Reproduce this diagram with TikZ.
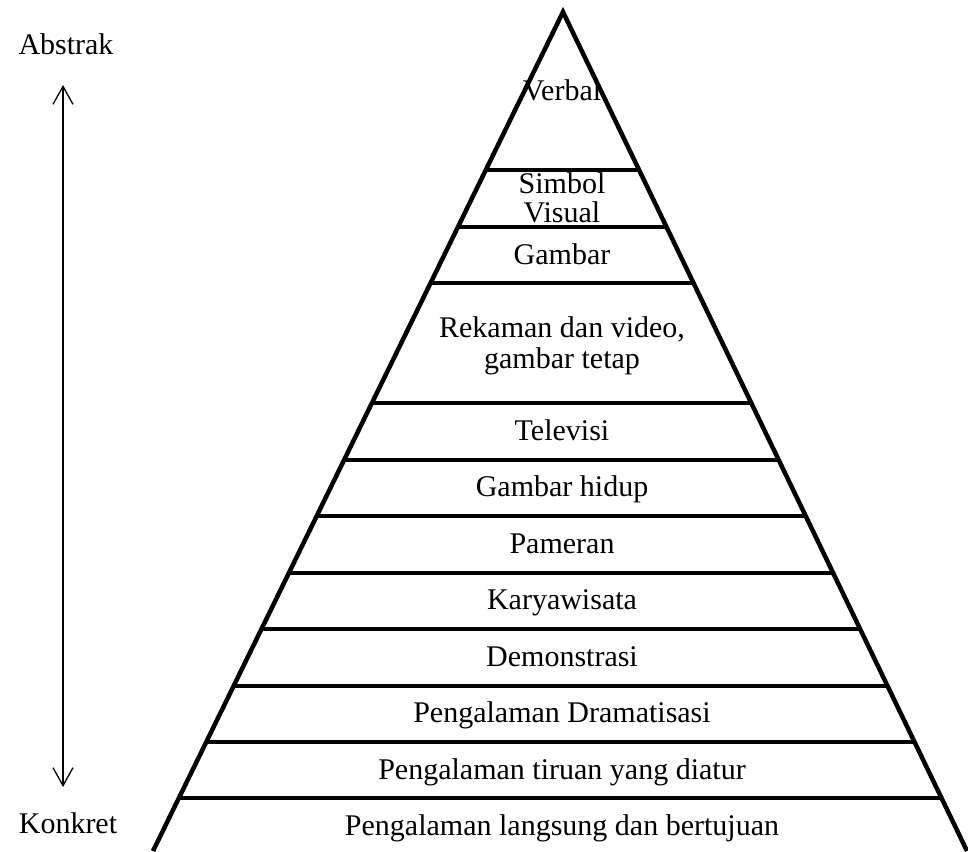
\documentclass[tikz,border=0pt]{standalone}
\usepackage{fontspec}
\setmainfont{Liberation Serif}
\usetikzlibrary{arrows.meta,calc}
\begin{document}
\begin{tikzpicture}[x=1pt,y=-1pt,
  lbl/.style={font=\fontsize{30}{31}\selectfont, anchor=base, inner sep=0pt},
  side/.style={line width=4.5pt, line join=miter},
  band/.style={line width=4pt},
  barb/.style={line width=1.3pt, {Straight Barb[length=18pt,width=20pt]}-{Straight Barb[length=18pt,width=20pt]}}]
\useasboundingbox (0,0) rectangle (968,851);
\coordinate (A) at (563,12);
\coordinate (L) at (153,851);
\coordinate (R) at (967,851);
\begin{scope}
\clip (0,0) rectangle (968,851);
\draw[side] (L) -- (A) -- (R);
\end{scope}
\foreach \yy in {170,227,283,403,460,516,573,629,686,742,798} {
  \pgfmathsetmacro\t{(\yy-12)/839}
  \draw[band] ($(A)!\t!(L)$) -- ($(A)!\t!(R)$);
}
\node[lbl] (verbal) at (562,100) {Verbal};
\node[lbl] (simbol) at (562,193) {Simbol};
\node[lbl] (visual) at (562,222) {Visual};
\node[lbl] (gambar) at (562,264) {Gambar};
\node[lbl] (rekaman) at (562,337) {Rekaman dan video,};
\node[lbl] (tetap) at (562,368) {gambar tetap};
\node[lbl] (tv) at (562,440) {Televisi};
\node[lbl] (hidup) at (562,496) {Gambar hidup};
\node[lbl] (pameran) at (562,553) {Pameran};
\node[lbl] (karya) at (562,609) {Karyawisata};
\node[lbl] (demo) at (562,666) {Demonstrasi};
\node[lbl] (drama) at (562,722) {Pengalaman Dramatisasi};
\node[lbl] (tiruan) at (562,779) {Pengalaman tiruan yang diatur};
\node[lbl] (langsung) at (562,835) {Pengalaman langsung dan bertujuan};
\node[lbl] (abstrak) at (66,55) {Abstrak};
\node[lbl] (konkret) at (68,833) {Konkret};
\coordinate (top) at (63,85);
\coordinate (bot) at (63,787);
\draw[barb] (top) -- (bot);
\end{tikzpicture}
\end{document}
